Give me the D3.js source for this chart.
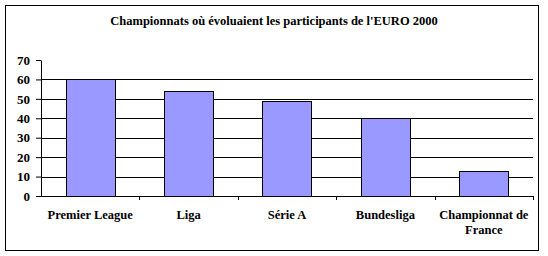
<!DOCTYPE html>
<html>
<head>
<meta charset="utf-8">
<script src="https://cdn.jsdelivr.net/npm/d3@7"></script>
<style>
  body { margin: 0; background: #fff; }
  svg text { font-weight: bold; fill: #000; }
</style>
</head>
<body>
<div id="chart"></div>
<script>
const title = "Championnats où évoluaient les participants de l'EURO 2000"
const categories = ['Premier League', 'Liga', 'Série A', 'Bundesliga', 'Championnat de France']
const joueurs = [60, 54, 49, 40, 13]
const yTicks = [0, 10, 20, 30, 40, 50, 60, 70]

;(function init() {
  const width = 548
  const height = 256
  const plot = { left: 41, right: 533, top: 60, bottom: 196 }
  const font = "'Liberation Serif', 'Times New Roman', serif"

  const svg = d3
    .select('#chart')
    .append('svg')
    .attr('width', width)
    .attr('height', height)
    .attr('font-family', font)

  // cadre du graphique
  svg
    .append('rect')
    .attr('x', 5.5)
    .attr('y', 5.5)
    .attr('width', 533)
    .attr('height', 245)
    .attr('fill', '#fff')
    .attr('stroke', '#000')

  const xScale = d3
    .scaleBand()
    .domain(categories)
    .range([plot.left, plot.right])
    .paddingInner(0.5)
    .paddingOuter(0.25)

  const yScale = d3
    .scaleLinear()
    .domain([0, 70])
    .range([plot.bottom, plot.top])

  // quadrillage (pas de ligne a 70)
  svg
    .append('g')
    .selectAll('line')
    .data(yTicks.filter((t) => t > 0 && t < 70))
    .enter()
    .append('line')
    .attr('x1', plot.left)
    .attr('x2', plot.right)
    .attr('y1', (d) => Math.round(yScale(d)) + 0.5)
    .attr('y2', (d) => Math.round(yScale(d)) + 0.5)
    .attr('stroke', '#000')

  svg
    .append('g')
    .selectAll('rect')
    .data(joueurs)
    .enter()
    .append('rect')
    .attr('x', (d, i) => Math.round(xScale(categories[i])) + 0.5)
    .attr('y', (d) => Math.round(yScale(d)) + 0.5)
    .attr('width', Math.round(xScale.bandwidth()))
    .attr('height', (d) => Math.round(yScale(0)) - Math.round(yScale(d)))
    .attr('fill', '#9999FF')
    .attr('stroke', '#000')

  const yAxis = d3
    .axisLeft(yScale)
    .tickValues(yTicks)
    .tickSize(5)
    .tickSizeOuter(0)
    .tickPadding(6)
    .offset(0.5)

  const gy = svg
    .append('g')
    .attr('transform', 'translate(' + plot.left + ',0)')
    .call(yAxis)
    .attr('font-family', font)
    .attr('font-size', 13)
  gy.selectAll('line, path').attr('stroke', '#000')

  // axe des categories : traits aux limites des groupes
  const bounds = d3
    .range(categories.length + 1)
    .map((i) => plot.left + (i * (plot.right - plot.left)) / categories.length)
  svg
    .append('line')
    .attr('x1', plot.left)
    .attr('x2', plot.right + 1)
    .attr('y1', plot.bottom + 0.5)
    .attr('y2', plot.bottom + 0.5)
    .attr('stroke', '#000')
  svg
    .append('g')
    .selectAll('line')
    .data(bounds.slice(1))
    .enter()
    .append('line')
    .attr('x1', (d) => Math.round(d) + 0.5)
    .attr('x2', (d) => Math.round(d) + 0.5)
    .attr('y1', plot.bottom)
    .attr('y2', plot.bottom + 4)
    .attr('stroke', '#000')

  const labels = svg
    .append('g')
    .selectAll('text')
    .data(categories)
    .enter()
    .append('text')
    .attr('x', (d) => xScale(d) + xScale.bandwidth() / 2)
    .attr('y', 219)
    .attr('text-anchor', 'middle')
    .style('font-size', '12.5px')

  labels.each(function (d) {
    const words = d === 'Championnat de France' ? ['Championnat de', 'France'] : [d]
    d3.select(this)
      .selectAll('tspan')
      .data(words)
      .enter()
      .append('tspan')
      .attr('x', xScale(d) + xScale.bandwidth() / 2)
      .attr('dy', (w, i) => (i === 0 ? 0 : 15))
      .text((w) => w)
  })

  svg
    .append('text')
    .attr('x', 274)
    .attr('y', 25)
    .attr('text-anchor', 'middle')
    .style('font-size', '12.5px')
    .text(title)
})()
</script>
</body>
</html>
